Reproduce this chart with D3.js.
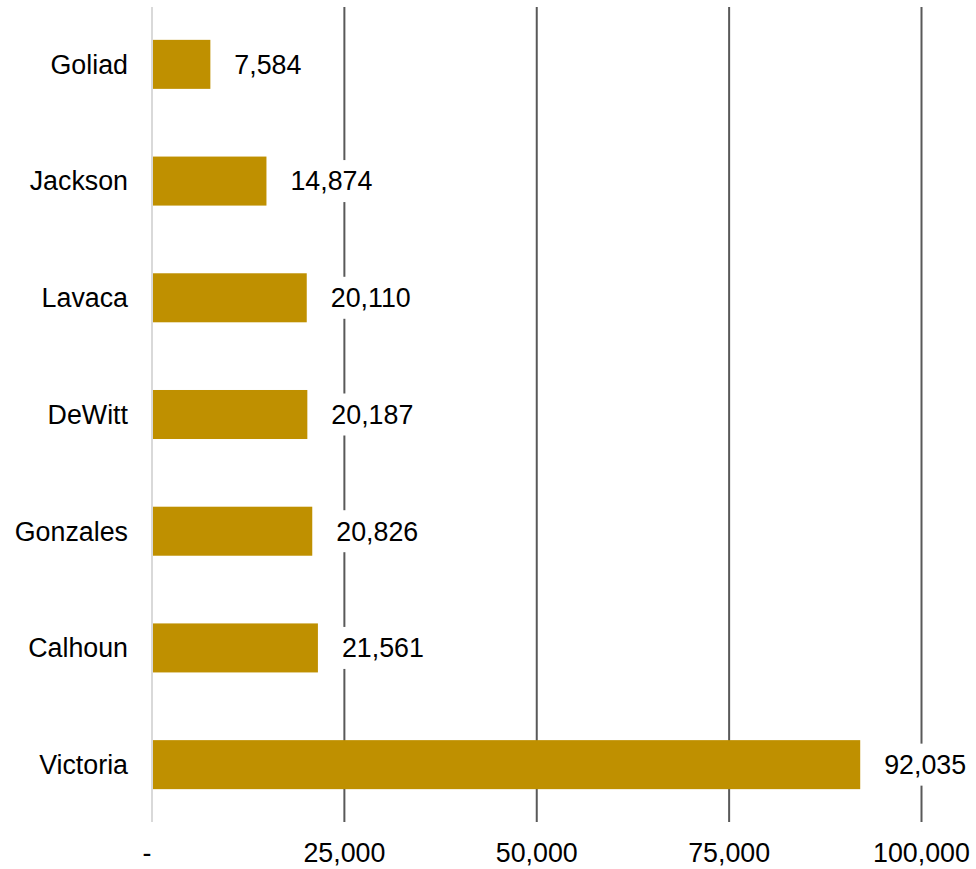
<!DOCTYPE html>
<html>
<head>
<meta charset="utf-8">
<script src="https://cdn.jsdelivr.net/npm/d3@7"></script>
<style>
  html, body { margin: 0; padding: 0; background: #fff; }
  svg { display: block; font-family: "Liberation Sans", Arial, sans-serif; }
</style>
</head>
<body>
<svg id="chart" width="976" height="869"></svg>
<script>
const categories = ["Goliad", "Jackson", "Lavaca", "DeWitt", "Gonzales", "Calhoun", "Victoria"];
const values = [7584, 14874, 20110, 20187, 20826, 21561, 92035];
const tickValues = [0, 25000, 50000, 75000, 100000];
const tickLabels = ["-", "25,000", "50,000", "75,000", "100,000"];

const svg = d3.select("#chart");
const x = d3.scaleLinear().domain([0, 100000]).range([152, 921.5]);
const y = d3.scaleBand().domain(categories).range([6, 823]).paddingInner(0.58).paddingOuter(0.29);

const fmt = d3.format(",");
const fontSize = 26.8;

// gridlines
svg.append("g").selectAll("line")
  .data(tickValues.filter(d => d > 0))
  .join("line")
  .attr("x1", d => x(d)).attr("x2", d => x(d))
  .attr("y1", 7).attr("y2", 822)
  .attr("stroke", "#595959").attr("stroke-width", 2);

// axis line at zero
svg.append("line")
  .attr("x1", x(0)).attr("x2", x(0))
  .attr("y1", 7).attr("y2", 822)
  .attr("stroke", "#d9d9d9").attr("stroke-width", 2);

// bars
svg.append("g").selectAll("rect")
  .data(categories)
  .join("rect")
  .attr("x", x(0) + 1)
  .attr("y", d => y(d))
  .attr("width", (d, i) => x(values[i]) - x(0) - 1)
  .attr("height", y.bandwidth())
  .attr("fill", "#BF9000");

// value labels with white background
const lab = svg.append("g").selectAll("g")
  .data(categories)
  .join("g")
  .attr("transform", (d, i) => `translate(${x(values[i]) + 24},${y(d) + y.bandwidth() / 2})`);
lab.append("rect").attr("class", "bg");
lab.append("text")
  .attr("dy", "0.35em")
  .attr("font-size", fontSize)
  .attr("fill", "#000")
  .text((d, i) => fmt(values[i]));
lab.each(function () {
  const g = d3.select(this);
  const bb = g.select("text").node().getBBox();
  g.select("rect.bg")
    .attr("x", bb.x - 6).attr("y", -21)
    .attr("width", bb.width + 12).attr("height", 42)
    .attr("fill", "#fff");
});

// category labels
svg.append("g").selectAll("text")
  .data(categories)
  .join("text")
  .attr("x", 128)
  .attr("y", d => y(d) + y.bandwidth() / 2)
  .attr("dy", "0.35em")
  .attr("text-anchor", "end")
  .attr("font-size", fontSize)
  .attr("fill", "#000")
  .text(d => d);

// x tick labels
svg.append("g").selectAll("text")
  .data(tickValues)
  .join("text")
  .attr("x", (d, i) => i === 0 ? x(d) - 5 : x(d))
  .attr("y", 862)
  .attr("text-anchor", "middle")
  .attr("font-size", fontSize)
  .attr("fill", "#000")
  .text((d, i) => tickLabels[i]);
</script>
</body>
</html>
